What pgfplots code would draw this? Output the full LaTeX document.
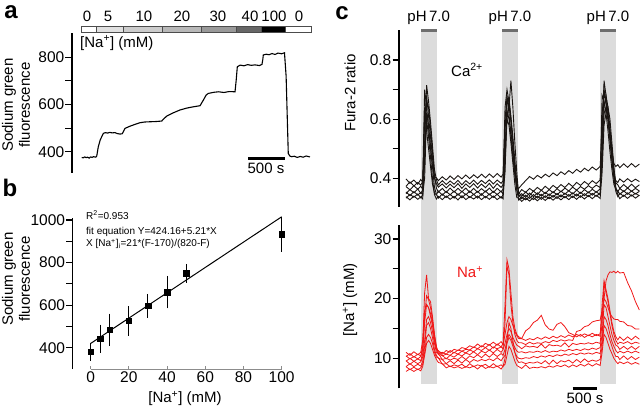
\documentclass[border=0pt]{standalone}
\usepackage{pgfplots}
\pgfplotsset{compat=1.18}
\usepackage{pgfplotstable}
\usepackage{fontspec}
\setmainfont{Liberation Sans}

\definecolor{trace}{HTML}{1A1512}
\definecolor{nared}{HTML}{F01818}
\definecolor{phgray}{HTML}{DCDCDC}
\definecolor{phdark}{HTML}{6E6E6E}

% panel a: sodium green trace (t in s)
\pgfplotstableread{
t v
0 376
20 374
40 378
60 375
80 377
100 373
120 378
140 376
160 379
190 377
203 382
224 421
250 450
292 478
320 481
350 479
380 482
410 480
450 481
480 477
517 475
545 476
558 482
585 499
650 508
720 516
787 523
850 526
920 527
1000 528
1080 530
1110 540
1148 551
1230 564
1328 577
1420 585
1500 590
1598 595
1643 619
1680 640
1709 647
1787 652
1850 654
1920 651
1990 655
2070 654
2085 700
2101 760
2140 767
2190 764
2240 769
2290 766
2340 768
2400 765
2434 770
2445 790
2452 810
2490 813
2530 811
2570 816
2610 812
2650 818
2700 815
2738 819
2760 720
2789 393
2810 382
2835 379
2870 381
2910 376
2950 380
2990 377
3030 382
3082 378
}\tracea

% panel b: calibration
\pgfplotstableread{
x y e
0 381 29
5 442 52
10 484 62
20 526 55
30 597 42
40 661 62
50 750 30
100 933 69
}\calib

% panel c: Fura-2 ratio traces
\pgfplotstableread{
t c1 c2 c3 c4 c5 c6 c7
0 0.398 0.373 0.372 0.348 0.354 0.333 0.338
80 0.383 0.388 0.361 0.362 0.341 0.346 0.327
160 0.394 0.374 0.375 0.351 0.355 0.336 0.340
240 0.380 0.386 0.363 0.364 0.343 0.347 0.329
300 0.396 0.377 0.373 0.349 0.352 0.334 0.337
340 0.387 0.389 0.364 0.360 0.345 0.344 0.330
380 0.700 0.520 0.600 0.450 0.640 0.400 0.480
420 0.640 0.715 0.680 0.660 0.560 0.620 0.600
460 0.570 0.660 0.610 0.640 0.500 0.580 0.540
500 0.500 0.590 0.540 0.570 0.440 0.510 0.470
540 0.440 0.510 0.470 0.490 0.380 0.440 0.400
580 0.405 0.430 0.400 0.410 0.350 0.370 0.345
620 0.402 0.395 0.382 0.367 0.344 0.346 0.330
660 0.392 0.378 0.370 0.353 0.357 0.333 0.339
740 0.405 0.392 0.381 0.366 0.343 0.347 0.328
820 0.394 0.379 0.367 0.352 0.356 0.335 0.340
900 0.408 0.391 0.380 0.367 0.344 0.346 0.329
980 0.396 0.380 0.368 0.353 0.357 0.333 0.339
1060 0.409 0.393 0.382 0.366 0.343 0.348 0.327
1140 0.398 0.378 0.366 0.354 0.356 0.334 0.341
1220 0.411 0.392 0.381 0.367 0.344 0.347 0.328
1300 0.399 0.381 0.369 0.352 0.357 0.335 0.338
1380 0.412 0.394 0.382 0.366 0.345 0.346 0.330
1460 0.401 0.380 0.367 0.353 0.356 0.333 0.340
1540 0.414 0.393 0.381 0.365 0.343 0.348 0.328
1620 0.402 0.382 0.368 0.354 0.357 0.334 0.339
1700 0.415 0.395 0.383 0.367 0.344 0.347 0.329
1780 0.403 0.381 0.366 0.352 0.356 0.335 0.340
1860 0.416 0.394 0.382 0.366 0.345 0.346 0.328
1940 0.404 0.383 0.369 0.354 0.357 0.333 0.338
1980 0.414 0.392 0.379 0.364 0.346 0.345 0.331
2020 0.560 0.640 0.480 0.600 0.420 0.520 0.450
2060 0.680 0.700 0.650 0.670 0.630 0.600 0.600
2100 0.620 0.660 0.670 0.640 0.600 0.650 0.580
2140 0.540 0.600 0.610 0.730 0.560 0.590 0.520
2180 0.470 0.520 0.540 0.640 0.490 0.520 0.450
2220 0.410 0.440 0.460 0.520 0.420 0.430 0.380
2260 0.370 0.380 0.390 0.420 0.360 0.360 0.335
2300 0.366 0.348 0.352 0.339 0.342 0.326 0.333
2360 0.378 0.362 0.339 0.348 0.331 0.337 0.322
2440 0.392 0.352 0.354 0.336 0.343 0.327 0.334
2520 0.406 0.366 0.342 0.350 0.332 0.338 0.323
2600 0.397 0.356 0.357 0.338 0.345 0.328 0.335
2680 0.410 0.369 0.345 0.351 0.333 0.340 0.324
2760 0.401 0.359 0.360 0.340 0.346 0.329 0.336
2840 0.414 0.373 0.348 0.353 0.335 0.341 0.325
2920 0.405 0.362 0.362 0.342 0.347 0.331 0.337
3000 0.418 0.376 0.351 0.355 0.336 0.342 0.326
3080 0.409 0.366 0.365 0.344 0.349 0.332 0.338
3160 0.422 0.379 0.354 0.357 0.337 0.344 0.327
3240 0.413 0.369 0.367 0.346 0.350 0.334 0.339
3320 0.426 0.383 0.357 0.358 0.339 0.345 0.328
3400 0.417 0.372 0.370 0.347 0.351 0.335 0.340
3480 0.430 0.386 0.360 0.360 0.340 0.347 0.329
3560 0.421 0.376 0.372 0.349 0.353 0.336 0.341
3640 0.434 0.389 0.363 0.362 0.341 0.348 0.330
3720 0.425 0.379 0.375 0.351 0.354 0.338 0.342
3800 0.438 0.392 0.366 0.363 0.343 0.349 0.331
3880 0.428 0.382 0.377 0.353 0.355 0.339 0.343
3960 0.440 0.395 0.369 0.364 0.344 0.350 0.332
4000 0.560 0.620 0.450 0.680 0.480 0.520 0.420
4040 0.730 0.690 0.640 0.660 0.620 0.700 0.580
4080 0.680 0.650 0.680 0.620 0.640 0.660 0.620
4120 0.620 0.600 0.640 0.560 0.600 0.600 0.640
4160 0.550 0.530 0.570 0.490 0.540 0.530 0.600
4200 0.490 0.460 0.500 0.430 0.470 0.460 0.520
4240 0.450 0.410 0.430 0.380 0.410 0.400 0.440
4280 0.440 0.392 0.385 0.362 0.365 0.355 0.370
4320 0.446 0.386 0.378 0.354 0.357 0.338 0.344
4360 0.436 0.398 0.366 0.366 0.345 0.350 0.331
4440 0.449 0.387 0.379 0.355 0.358 0.339 0.343
4520 0.437 0.399 0.367 0.367 0.346 0.351 0.332
4600 0.450 0.388 0.380 0.356 0.357 0.340 0.344
4680 0.438 0.397 0.368 0.366 0.347 0.349 0.333
4760 0.448 0.389 0.378 0.357 0.356 0.341 0.343
}\caT

% panel c: [Na+] traces
\pgfplotstableread{
t n1 n2 n3 n4 n5 n6 n7 n8
0 11.0 10.3 10.4 9.5 9.6 8.6 8.6 7.8
80 10.5 10.8 9.9 10.0 9.0 9.1 8.1 8.2
160 11.1 10.2 10.3 9.5 9.5 8.6 8.5 7.8
240 10.6 10.7 9.9 9.9 9.1 9.0 8.1 8.2
300 11.0 10.4 10.3 9.6 9.4 8.7 8.4 7.9
340 13.0 12.0 11.5 10.8 10.2 9.5 9.0 8.6
380 18.0 21.0 17.0 16.0 13.0 12.0 11.0 10.5
420 19.0 24.0 20.5 19.0 16.5 15.5 13.5 12.5
460 18.5 20.0 19.8 18.5 17.0 16.0 14.0 13.0
500 17.0 19.5 18.5 17.5 16.0 15.0 13.5 12.5
540 15.5 17.0 16.5 16.0 14.5 13.5 12.5 11.5
580 13.0 14.0 14.0 13.5 12.5 11.5 11.0 10.5
620 11.5 12.0 11.8 11.5 11.0 10.5 10.2 9.8
660 11.3 10.8 11.1 10.6 10.8 10.0 10.1 9.3
740 10.7 11.0 10.4 10.5 9.8 9.8 9.0 9.1
820 11.3 10.7 10.7 9.9 10.0 9.1 9.1 8.4
900 11.0 11.3 10.5 10.5 9.7 9.6 8.6 8.7
980 11.5 10.9 11.0 10.2 10.0 9.1 8.9 8.4
1060 11.3 11.4 10.7 10.7 9.8 9.7 8.7 8.6
1140 11.8 11.2 11.2 10.4 10.3 9.2 9.0 8.3
1220 11.6 11.5 10.9 10.9 9.8 9.8 8.5 8.6
1300 12.1 11.4 11.4 10.6 10.4 9.3 9.1 8.4
1380 11.8 11.9 11.1 11.1 10.1 9.8 8.6 8.7
1460 12.4 11.6 11.6 10.6 10.6 9.5 8.9 8.2
1540 11.9 12.1 11.3 11.2 10.1 9.8 8.7 8.8
1620 12.5 11.8 11.8 10.9 10.7 9.6 9.0 8.3
1700 12.2 12.3 11.3 11.4 10.2 9.9 8.5 8.6
1780 12.7 11.7 11.9 10.9 10.8 9.6 9.1 8.4
1860 12.2 12.4 11.6 11.5 10.3 10.1 8.6 8.7
1940 12.8 11.9 11.9 11.0 10.8 9.6 8.9 8.2
1980 12.3 12.5 11.6 11.5 10.5 10.1 8.6 8.7
2020 14.0 19.0 16.0 12.5 11.5 10.5 10.0 9.0
2060 16.0 26.5 25.5 14.0 13.0 12.5 13.0 10.5
2100 17.0 25.0 24.0 15.0 14.0 13.5 16.0 12.0
2140 16.5 21.0 19.0 14.5 13.5 13.0 15.0 11.5
2180 15.5 17.0 16.0 13.5 12.5 12.0 13.0 10.5
2220 14.5 15.0 14.0 12.8 11.8 11.0 11.0 9.5
2260 13.8 14.0 13.0 12.2 11.2 10.3 9.8 8.8
2300 13.3 13.6 12.6 12.0 11.0 10.0 9.3 8.6
2360 13.3 13.3 12.6 11.6 11.1 9.9 9.4 8.3
2440 13.0 14.6 12.3 12.1 10.9 10.1 9.1 8.9
2520 13.3 15.1 12.7 11.9 11.1 10.0 9.3 8.3
2600 13.1 16.0 12.4 12.0 11.0 10.3 9.2 8.5
2680 13.5 16.4 12.6 11.8 11.2 10.1 9.4 8.4
2760 13.2 17.2 12.5 12.4 11.0 10.4 9.1 8.6
2840 13.6 15.6 12.8 11.7 11.3 10.2 9.6 8.4
2920 13.3 14.9 12.6 12.3 11.0 10.5 9.0 8.7
3000 13.7 14.7 13.0 12.1 11.2 10.3 9.7 8.5
3080 13.4 15.7 12.8 12.2 11.1 10.6 9.1 8.8
3160 13.8 16.0 13.1 12.0 11.4 10.4 9.6 8.6
3240 13.5 15.3 12.9 12.6 11.2 10.7 9.4 8.9
3320 13.9 14.3 13.1 11.9 11.5 10.5 9.7 8.5
3400 13.6 14.0 13.0 12.5 11.3 10.8 9.2 8.9
3480 14.0 13.6 14.5 12.3 11.5 10.6 9.8 8.6
3560 13.7 14.0 14.7 12.5 11.3 10.9 9.3 9.0
3640 14.1 13.5 15.3 12.4 11.6 10.7 9.9 8.7
3720 13.8 13.9 15.5 12.6 11.4 10.9 9.4 9.1
3800 14.2 13.6 16.1 12.4 11.7 10.7 9.7 8.7
3880 13.8 14.0 16.3 12.7 11.5 11.0 9.5 9.1
3960 14.1 13.7 16.4 12.5 11.8 10.8 9.8 8.8
4000 17.0 19.0 18.0 16.0 14.0 13.0 12.0 11.0
4040 20.0 23.0 20.0 22.5 19.0 17.0 15.5 14.0
4080 23.0 21.5 19.5 21.0 18.5 16.5 15.0 13.5
4120 24.0 20.0 18.5 19.5 17.0 15.5 14.0 12.5
4160 24.5 18.0 17.5 17.5 15.5 14.0 13.0 11.5
4200 24.4 16.0 17.0 15.5 14.0 12.8 12.0 10.8
4240 24.6 14.5 16.6 14.0 13.0 12.0 11.0 10.0
4280 24.3 13.6 16.5 13.0 12.2 11.3 10.3 9.5
4320 24.6 13.1 16.5 12.4 12.0 10.9 10.3 9.1
4360 24.3 13.6 16.2 12.7 11.5 11.2 9.8 9.4
4440 24.4 13.0 16.1 12.5 12.0 10.9 10.4 9.1
4520 22.7 13.6 15.5 12.8 11.5 11.2 9.8 9.4
4600 21.3 13.1 15.4 12.4 12.0 10.9 10.3 9.0
4680 19.5 13.7 14.9 12.7 11.5 11.2 9.8 9.3
4760 18.1 13.2 14.9 12.5 12.0 10.9 10.2 9.0
}\naT

\pgfplotsset{
  panel/.style={
    scale only axis, clip=false,
    axis y line*=left,
    axis line style={line width=1.3pt, black},
    tick style={line width=1.1pt, black},
    tick align=outside,
    major tick length=6.5pt, minor tick length=6.5pt,
    tick label style={font=\fontsize{15.5}{18}\selectfont},
    /pgf/number format/assume math mode=true,
    /pgf/number format/1000 sep={},
    yticklabel style={inner sep=1pt},
  }
}

\newcommand{\lbl}{\fontsize{15}{17}\selectfont}

\begin{document}
\begin{tikzpicture}[x=1pt,y=1pt]
\path[use as bounding box] (0,0) rectangle (640,-406);

% ---------------- panel a ----------------
\begin{axis}[panel, axis x line=none, at={(72pt,-173pt)}, anchor=south west,
  width=243pt, height=140pt,
  xmin=-131, xmax=3150, ymin=310, ymax=903,
  ytick={400,600,800}, minor ytick={500,700}]
\filldraw[fill=white, draw=black!70, line width=0.8pt] (axis cs:-9,907) rectangle (axis cs:203,933);
\filldraw[fill=black!12, draw=black!70, line width=0.8pt] (axis cs:203,907) rectangle (axis cs:562,933);
\filldraw[fill=black!20, draw=black!70, line width=0.8pt] (axis cs:562,907) rectangle (axis cs:1088,933);
\filldraw[fill=black!28, draw=black!70, line width=0.8pt] (axis cs:1088,907) rectangle (axis cs:1620,933);
\filldraw[fill=black!40, draw=black!70, line width=0.8pt] (axis cs:1620,907) rectangle (axis cs:2084,933);
\filldraw[fill=black!60, draw=black!70, line width=0.8pt] (axis cs:2084,907) rectangle (axis cs:2430,933);
\filldraw[fill=black, draw=black!70, line width=0.8pt] (axis cs:2430,907) rectangle (axis cs:2745,933);
\filldraw[fill=white, draw=black!70, line width=0.8pt] (axis cs:2745,907) rectangle (axis cs:3105,933);
\addplot[black, line width=1.1pt] table[x=t, y=v] {\tracea};
\draw[black, line width=3pt] (axis cs:2250,372) -- (axis cs:2745,372);
\end{axis}

% ---------------- panel b ----------------
\begin{axis}[panel, at={(72.7pt,-369pt)}, anchor=south west,
  width=227.3pt, height=150.7pt,
  xmin=-9.4, xmax=109.6, ymin=300, ymax=1008,
  axis x line*=bottom, x axis line style={draw=none},
  xtick={0,20,40,60,80,100}, major x tick style={draw=none},
  xticklabel style={yshift=7pt},
  ytick={400,600,800,1000}, minor ytick={500,700,900}]
\draw[black!45, line width=0.8pt] (axis cs:0,300) -- (axis cs:100,300);
\draw[black!45, line width=0.8pt] (axis cs:0,300) -- ++(0pt,3pt);
\draw[black!45, line width=0.8pt] (axis cs:20,300) -- ++(0pt,3pt);
\draw[black!45, line width=0.8pt] (axis cs:40,300) -- ++(0pt,3pt);
\draw[black!45, line width=0.8pt] (axis cs:60,300) -- ++(0pt,3pt);
\draw[black!45, line width=0.8pt] (axis cs:80,300) -- ++(0pt,3pt);
\draw[black!45, line width=0.8pt] (axis cs:100,300) -- ++(0pt,3pt);
\addplot[black, line width=1pt, no marks] coordinates {(0,420) (100,1015)};
\addplot[black, only marks, mark=square*, mark size=2.8pt,
  error bars/.cd, y dir=both, y explicit,
  error bar style={line width=1pt},
  error mark options={line width=1pt, mark size=3pt}]
  table[x=x, y=y, y error=e] {\calib};
\end{axis}

% ---------------- panel c top ----------------
\begin{axis}[panel, axis x line=none, at={(399pt,-206.7pt)}, anchor=south west,
  width=241pt, height=176.7pt,
  xmin=-143, xmax=4773, ymin=0.304, ymax=0.9014,
  ytick={0.4,0.6,0.8}, minor ytick={0.5,0.7},
  yticklabel style={/pgf/number format/fixed, /pgf/number format/precision=1}]
\fill[phgray] (axis cs:300,0.2421) rectangle (axis cs:626,0.8947);
\fill[phgray] (axis cs:1958,0.2421) rectangle (axis cs:2279,0.8947);
\fill[phgray] (axis cs:3958,0.2421) rectangle (axis cs:4284,0.8947);
\fill[phdark] (axis cs:300,0.8937) rectangle (axis cs:626,0.9040);
\fill[phdark] (axis cs:1958,0.8937) rectangle (axis cs:2279,0.9040);
\fill[phdark] (axis cs:3958,0.8937) rectangle (axis cs:4284,0.9040);
\pgfplotsinvokeforeach{1,...,7}{
  \addplot[trace, line width=0.9pt] table[x=t, y=c#1] {\caT};
}
\end{axis}

% ---------------- panel c bottom ----------------
\begin{axis}[panel, axis x line=none, at={(399pt,-388.3pt)}, anchor=south west,
  width=241pt, height=163.3pt,
  xmin=-143, xmax=4773, ymin=4.97, ymax=32.35,
  ytick={10,20,30}, minor ytick={15,25}]
\fill[phgray] (axis cs:300,5.64) rectangle (axis cs:626,32.35);
\fill[phgray] (axis cs:1958,5.64) rectangle (axis cs:2279,32.35);
\fill[phgray] (axis cs:3958,5.64) rectangle (axis cs:4284,32.35);
\pgfplotsinvokeforeach{1,...,8}{
  \addplot[nared, line width=0.8pt] table[x=t, y=n#1] {\naT};
}
\draw[black, line width=3pt] (axis cs:3401,4.92) -- (axis cs:3903,4.92);
\end{axis}

% ---------------- texts ----------------
\node[font=\fontsize{24}{26}\selectfont\bfseries, inner sep=0pt] at (11,-12) {a};
\node[font=\fontsize{24}{26}\selectfont\bfseries, inner sep=0pt] at (10,-188) {b};
\node[font=\fontsize{24}{26}\selectfont\bfseries, inner sep=0pt] at (342,-13) {c};

% concentration labels
\foreach \xx/\tt in {87/0, 108/5, 144/10, 182/20, 218/30, 250/40, 274/100, 299/0}
  \node[font=\lbl] at (\xx,-16.5) {\tt};
\node[font=\lbl, anchor=west, inner sep=0pt] at (80,-43) {[Na\textsuperscript{+}] (mM)};
\node[font=\lbl] at (266,-168) {500 s};

% y labels a, b
\node[font=\lbl, rotate=90, align=center] at (16,-105) {Sodium green\\fluorescence};
\node[font=\lbl, rotate=90, align=center] at (16,-279) {Sodium green\\fluorescence};

% b annotations
\node[font=\fontsize{10}{12}\selectfont, anchor=west, inner sep=0pt] at (86,-215) {R\textsuperscript{2}=0.953};
\node[font=\fontsize{10}{12}\selectfont, anchor=west, inner sep=0pt] at (86,-232) {fit equation Y=424.16+5.21*X};
\node[font=\fontsize{10}{12}\selectfont, anchor=west, inner sep=0pt] at (86,-244) {X [Na\textsuperscript{+}]\textsubscript{i}=21*(F-170)/(820-F)};
\node[font=\lbl, inner sep=0pt] at (185,-398.5) {[Na\textsuperscript{+}] (mM)};

% c labels
\foreach \xx in {428.7, 510, 608}
  \node[font=\lbl] at (\xx,-18) {pH\,7.0};
\node[font=\lbl] at (467,-70) {Ca\textsuperscript{2+}};
\node[font=\lbl, text=nared] at (470,-272) {Na\textsuperscript{+}};
\node[font=\lbl, rotate=90] at (350,-93) {Fura-2 ratio};
\node[font=\lbl, rotate=90] at (350,-300) {[Na\textsuperscript{+}] (mM)};
\node[font=\lbl, inner sep=1pt] at (585,-398) {500 s};
\end{tikzpicture}
\end{document}
